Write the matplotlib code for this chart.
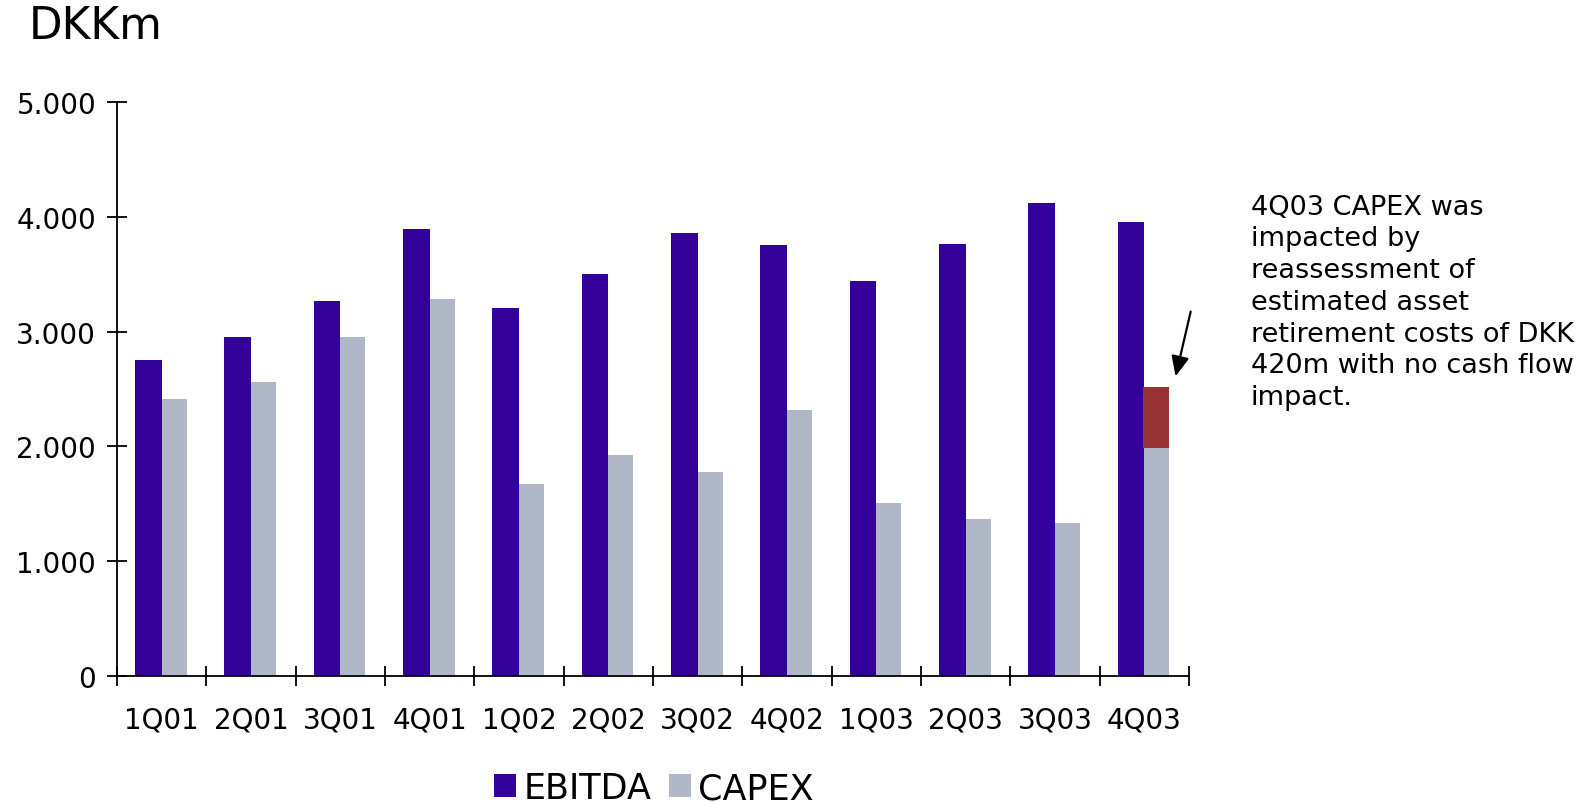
import matplotlib
matplotlib.use("Agg")
import matplotlib.pyplot as plt
from matplotlib.patches import Patch
import numpy as np

# Quarterly figures, DKK million
quarters = ["1Q01", "2Q01", "3Q01", "4Q01", "1Q02", "2Q02",
            "3Q02", "4Q02", "1Q03", "2Q03", "3Q03", "4Q03"]
ebitda = [2750, 2955, 3265, 3895, 3205, 3505, 3860, 3755, 3445, 3765, 4125, 3960]
capex = [2410, 2565, 2955, 3285, 1675, 1925, 1780, 2315, 1505, 1365, 1330, 2455]

# Highlighted asset-retirement reassessment block on the last quarter
adj_quarter = "4Q03"
adj_bottom = 1987
adj_top = 2515

y_ticks = [0, 1000, 2000, 3000, 4000, 5000]
y_tick_labels = ["0", "1.000", "2.000", "3.000", "4.000", "5.000"]

note = ("4Q03 CAPEX was\nimpacted by\nreassessment of\nestimated asset\n"
        "retirement costs of DKK\n420m with no cash flow\nimpact.")

c_ebitda = "#330099"
c_capex = "#B0B8C8"
c_adj = "#993333"

plt.rcParams["font.family"] = ["DejaVu Sans"]

fig = plt.figure(figsize=(15.91, 8.03), dpi=100)
ax = fig.add_axes([0.07354, 0.15729, 0.67379, 0.71407])

x = np.arange(len(quarters))
ax.bar(x - 0.3, ebitda, width=0.3, align="edge", color=c_ebitda, zorder=2)
ax.bar(x, capex, width=0.28, align="edge", color=c_capex, zorder=2)

ai = quarters.index(adj_quarter)
ax.bar(ai - 0.01, adj_top - adj_bottom, bottom=adj_bottom, width=0.29,
       align="edge", color=c_adj, zorder=3)

ax.set_xlim(-0.5, len(quarters) - 0.5)
ax.set_ylim(0, 5000)

ax.spines["top"].set_visible(False)
ax.spines["right"].set_visible(False)
for s in ("left", "bottom"):
    ax.spines[s].set_linewidth(1.3)
    ax.spines[s].set_color("black")

ax.set_yticks(y_ticks)
ax.set_yticklabels(y_tick_labels)
ax.tick_params(axis="y", direction="inout", length=14, width=1.3,
               labelsize=20, pad=8)

# category boundaries carry the tick marks, labels sit at the centres
ax.set_xticks(np.arange(len(quarters) + 1) - 0.5)
ax.set_xticklabels([])
ax.set_xticks(x, minor=True)
ax.set_xticklabels(quarters, minor=True)
ax.tick_params(axis="x", which="major", direction="inout", length=14,
               width=1.3)
ax.tick_params(axis="x", which="minor", length=0, labelsize=20, pad=21.5)

# arrow pointing at the highlighted block
ax.annotate("", xy=(11.35, 2610), xytext=(11.519, 3175),
            arrowprops=dict(arrowstyle="-|>,head_length=1.22,head_width=0.54",
                            color="black", lw=1.6, shrinkA=0, shrinkB=0),
            annotation_clip=False)

fig.text(0.786, 0.7575, note, fontsize=19.5, va="top", ha="left",
         linespacing=1.285)

fig.text(0.018, 0.952, "DKKm", fontsize=31.5, va="baseline", ha="left")

handles = [Patch(facecolor=c_ebitda, edgecolor="none", label="EBITDA"),
           Patch(facecolor=c_capex, edgecolor="none", label="CAPEX")]
fig.legend(handles=handles, loc="center left",
           bbox_to_anchor=(0.3105, 0.0174), ncol=2, frameon=False,
           fontsize=25.2, handlelength=0.62, handleheight=0.62,
           handletextpad=0.22, columnspacing=0.5, borderpad=0,
           borderaxespad=0)

fig.savefig("out.png", dpi=100)
